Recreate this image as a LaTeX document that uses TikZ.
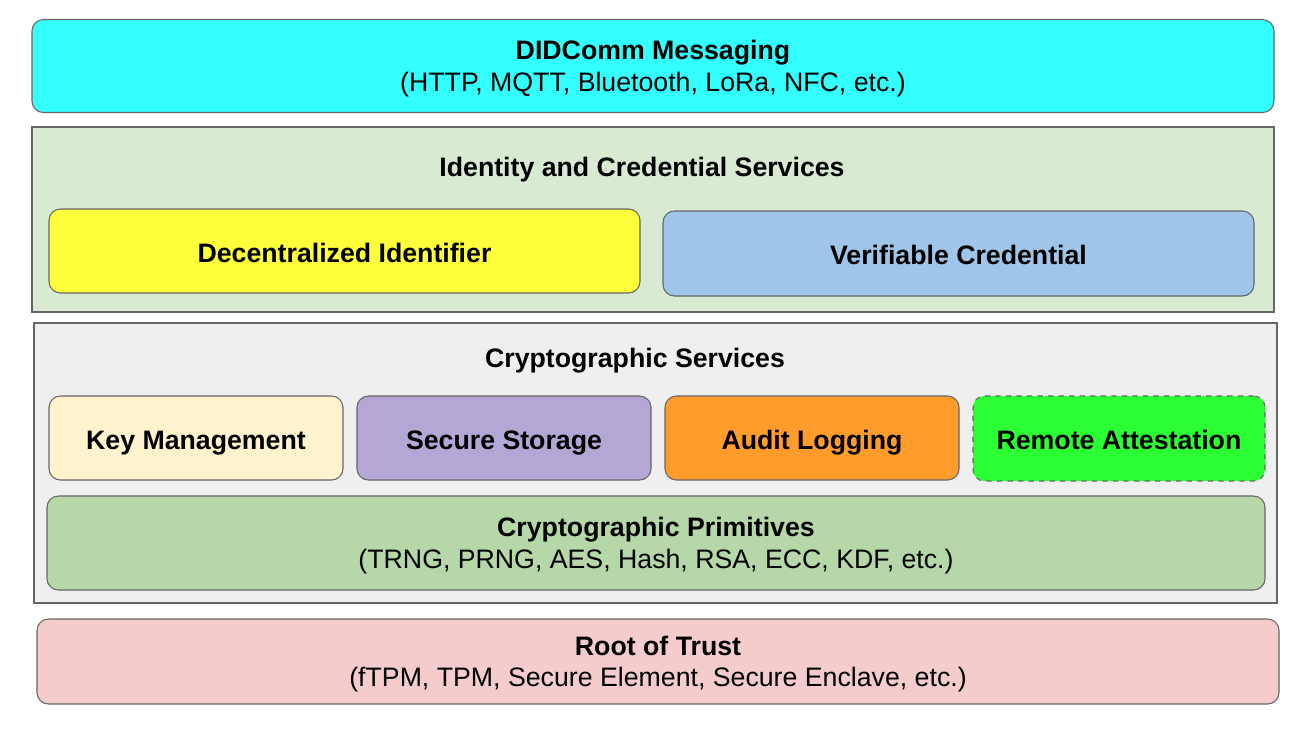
\documentclass[tikz,border=0pt]{standalone}
\usepackage{fontspec}
\setmainfont{Liberation Sans}
\usetikzlibrary{positioning}
\definecolor{ncyan}{HTML}{33FFFF}
\definecolor{npanelg}{HTML}{D9EAD3}
\definecolor{nyellow}{HTML}{FFFF3B}
\definecolor{nblue}{HTML}{9FC5E8}
\definecolor{npanelk}{HTML}{EFEFEF}
\definecolor{ncream}{HTML}{FFF2CC}
\definecolor{npurple}{HTML}{B4A7D6}
\definecolor{norange}{HTML}{FF9C2B}
\definecolor{nlime}{HTML}{2BFF33}
\definecolor{nsage}{HTML}{B6D7A8}
\definecolor{nrose}{HTML}{F4CCCC}
\definecolor{nedge}{HTML}{666666}
\definecolor{nink}{HTML}{000000}

\begin{document}
\begin{tikzpicture}[
  x=0.02cm, y=-0.02cm,
  font=\fontsize{15.2}{18.1}\selectfont,
  % a layer is a wide rounded bar; a panel is a square-cornered frame
  layer/.style = {draw=nedge, line width=0.6pt, rounded corners=6.5pt,
                  align=center, text=nink, inner sep=0pt,
                  text height=32.2pt, text depth=3.2pt},
  panel/.style = {draw=nedge, line width=0.6pt, inner sep=0pt},
  ptitle/.style= {font=\fontsize{15.2}{18.1}\selectfont\bfseries, text=nink},
  block/.style = {layer, font=\fontsize{15.2}{18.1}\selectfont\bfseries,
                  text height=16pt, text depth=3.2pt,
                  minimum width=294*0.02cm, minimum height=84*0.02cm},
]
\useasboundingbox (0,0) rectangle (1306,728);

% ============================ top: messaging ================================
\node[layer, fill=ncyan, minimum width=1242*0.02cm, minimum height=93*0.02cm]
     (msg) at (653,66)
     {\textbf{DIDComm Messaging}\\(HTTP, MQTT, Bluetooth, LoRa, NFC, etc.)};

% ============================ identity and credentials ======================
\node[panel, fill=npanelg, minimum width=1242*0.02cm, minimum height=185*0.02cm]
     (idsvc) at (653,219.5) {};
\node[ptitle] (idtitle) at (642,170) {Identity and Credential Services};
\node[block, fill=nyellow, minimum width=591*0.02cm] (did) at (344.5,251)
     {Decentralized Identifier};
\node[block, fill=nblue, minimum width=591*0.02cm, minimum height=85*0.02cm]
     (vc) at (958.5,253.5) {Verifiable Credential};

% ============================ cryptographic services ========================
\node[panel, fill=npanelk, minimum width=1243*0.02cm, minimum height=280*0.02cm]
     (cryptosvc) at (655.5,463) {};
\node[ptitle] (cryptotitle) at (635,361) {Cryptographic Services};
\node[block, fill=ncream]  (keymgmt) at (196,438)   {Key Management};
\node[block, fill=npurple] (storage) at (504,438)   {Secure Storage};
\node[block, fill=norange] (audit)   at (812,438)   {Audit Logging};
\node[block, fill=nlime, dashed, minimum width=292*0.02cm, minimum height=85*0.02cm]
     (attest) at (1119,438.5) {Remote Attestation};
\node[layer, fill=nsage, minimum width=1218*0.02cm, minimum height=94*0.02cm]
     (prims) at (656,543)
     {\textbf{Cryptographic Primitives}\\(TRNG, PRNG, AES, Hash, RSA, ECC, KDF, etc.)};

% ============================ bottom: hardware =============================
\node[layer, fill=nrose, minimum width=1242*0.02cm, minimum height=85*0.02cm]
     (rot) at (658,661.5)
     {\textbf{Root of Trust}\\(fTPM, TPM, Secure Element, Secure Enclave, etc.)};

\end{tikzpicture}
\end{document}
